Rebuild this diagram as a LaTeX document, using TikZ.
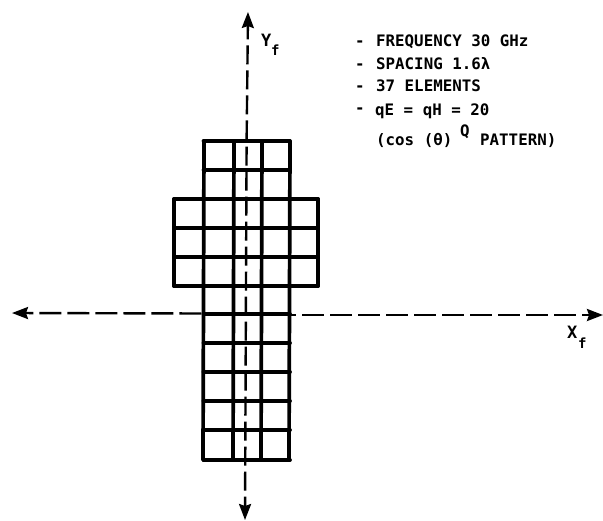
\documentclass[tikz,border=0pt]{standalone}
\usepackage{fontspec}
\newfontfamily\notefont{DejaVu Sans Mono Bold}
\usetikzlibrary{arrows.meta}
\tikzset{
  gridline/.style={line width=3.7pt,line cap=round,black},
  haxis/.style={line width=2.4pt,dash pattern=on 22pt off 6pt,dash phase=14pt,black},
  vaxis/.style={line width=2.4pt,dash pattern=on 19pt off 6pt,black},
  tip/.style={{Stealth[length=16pt,width=12pt,inset=2pt]}-},
  note/.style={anchor=base west,inner sep=0pt,font=\fontsize{15.8}{16}\notefont},
  axlabel/.style={anchor=base west,inner sep=0pt,font=\fontsize{17}{17}\notefont}
}
\begin{document}
\begin{tikzpicture}[x=1pt,y=-1pt]
\useasboundingbox (0,0) rectangle (603,520);
% axes
\coordinate (yt) at (248,12);
\coordinate (yb) at (245,520);
\coordinate (ym) at (246.6,142);
\coordinate (xl) at (12,313);
\coordinate (xr) at (603,315);
\coordinate (gl) at (203,313.5);
\coordinate (gr) at (290,315);
\draw[vaxis,dash phase=5pt,tip] (yt) -- (ym);
\draw[vaxis,dash phase=9pt,tip] (yb) -- (ym);
\draw[haxis,tip] (xl) -- (gl);
\draw[haxis,tip] (xr) -- (gr);
% grid: rows
\foreach \y in {141,170,199,228,257,286,314,343,372,401,430,460}
  \draw[gridline] (203.5,\y) -- (290,\y);
\foreach \y in {199,228,257,286}
  \draw[gridline] (174,\y) -- (318,\y);
% grid: columns
\draw[gridline] (204,141) -- (203,460);
\draw[gridline] (234,141) -- (233,460);
\draw[gridline] (262,141) -- (261,460);
\draw[gridline] (290,141) -- (289,460);
\draw[gridline] (174,199) -- (174,286);
\draw[gridline] (318,199) -- (318,286);
% text
\node[note] (d1) at (355,46) {-};
\node[note] (t1) at (376,46) {FREQUENCY 30 GHz};
\node[note] (d2) at (355,69) {-};
\node[note] (t2) at (376,69) {SPACING 1.6λ};
\node[note] (d3) at (355,91) {-};
\node[note] (t3) at (376,91) {37 ELEMENTS};
\node[note] (d4) at (355,113) {-};
\node[note] (t4) at (375,115) {qE = qH = 20};
\node[note] (t5) at (376,145) {(cos (θ)};
\node[note] (t6) at (460,136) {Q};
\node[note] (t7) at (480,145) {PATTERN)};
\node[axlabel] (ylab) at (261,46) {Y};
\node[axlabel] (ysub) at (271,55) {\fontsize{14}{14}\notefont f};
\node[axlabel] (xlab) at (567,338) {X};
\node[axlabel] (xsub) at (578,348) {\fontsize{14}{14}\notefont f};
\end{tikzpicture}
\end{document}
